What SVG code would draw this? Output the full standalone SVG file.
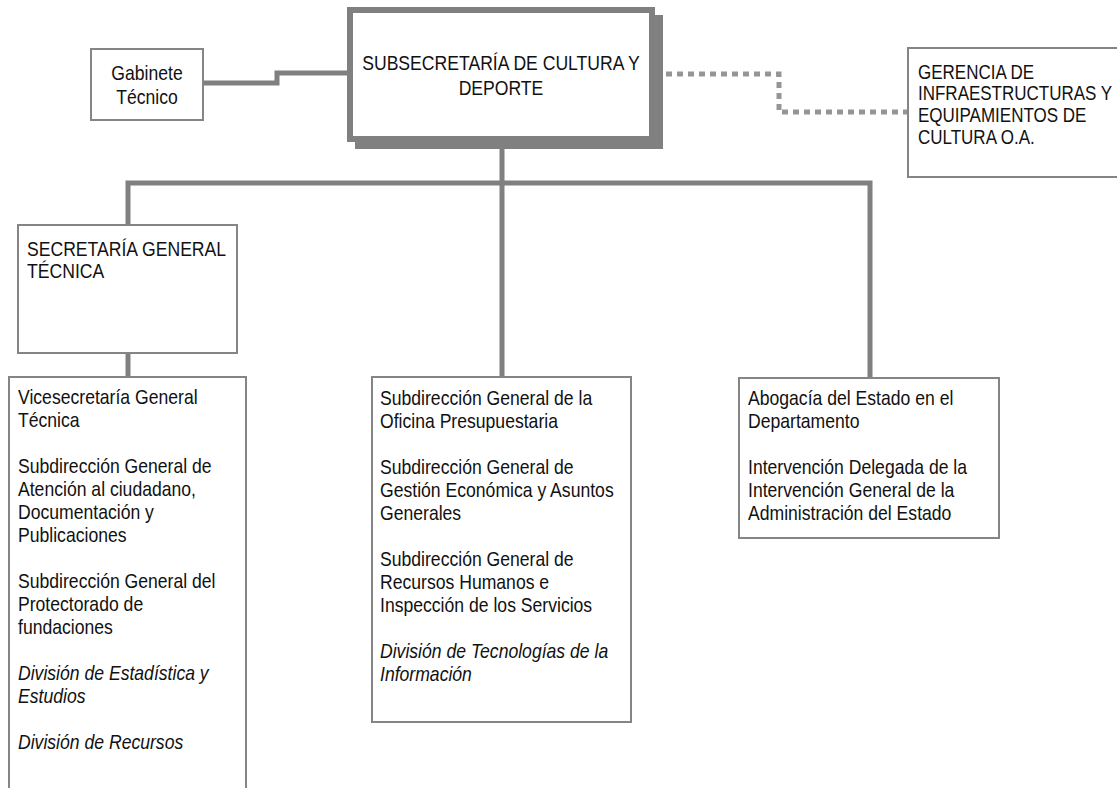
<svg xmlns="http://www.w3.org/2000/svg" width="1117" height="788" viewBox="0 0 1117 788">
<style>
.box{fill:#fff;stroke:#858585;stroke-width:2}
.conn{fill:none;stroke:#808080;stroke-width:5;stroke-linejoin:miter}
.dot{fill:none;stroke:#959595;stroke-width:5;stroke-dasharray:6 5}
text{font-family:"Liberation Sans",Arial,sans-serif;font-size:20px;fill:#111}
.c{text-anchor:middle}
.i{font-style:italic}
</style>
<rect width="1117" height="788" fill="#fff"/>
<g id="connectors">
<path class="conn" d="M203,83 H277 V73 H347"/>
<path class="dot" d="M666,74 H779 V112 H908"/>
<path class="conn" d="M128,225 V183 H870 V378"/>
<path class="conn" d="M502,149 V377"/>
<path class="conn" d="M128,353 V377"/>
</g>
<g id="gabinete">
<rect class="box" x="91" y="49" width="112" height="71"/>
<g transform="translate(147,0) scale(0.88,1)">
<text class="c" x="0" y="80">Gabinete</text>
<text class="c" x="0" y="104">Técnico</text>
</g>
</g>
<g id="subsecretaria">
<rect x="355" y="15" width="308" height="134" fill="#808080"/>
<rect x="350" y="10" width="302" height="129" fill="#fff" stroke="#808080" stroke-width="6"/>
<g transform="translate(501,0) scale(0.88,1)">
<text class="c" x="0" y="70">SUBSECRETARÍA DE CULTURA Y</text>
<text class="c" x="0" y="95">DEPORTE</text>
</g>
</g>
<g id="gerencia">
<rect class="box" x="908" y="48" width="215" height="129"/>
<g transform="translate(918,0) scale(0.85,1)">
<text x="0" y="79">GERENCIA DE</text>
<text x="0" y="100">INFRAESTRUCTURAS Y</text>
<text x="0" y="122">EQUIPAMIENTOS DE</text>
<text x="0" y="144">CULTURA O.A.</text>
</g>
</g>
<g id="sgt">
<rect class="box" x="18" y="225" width="219" height="128"/>
<g transform="translate(27,0) scale(0.88,1)">
<text x="0" y="256">SECRETARÍA GENERAL</text>
<text x="0" y="278">TÉCNICA</text>
</g>
</g>
<g id="sgt-units">
<rect class="box" x="9" y="377" width="237" height="420"/>
<g transform="translate(18,0) scale(0.88,1)">
<text x="0" y="404">Vicesecretaría General</text>
<text x="0" y="427">Técnica</text>
<text x="0" y="473">Subdirección General de</text>
<text x="0" y="496">Atención al ciudadano,</text>
<text x="0" y="519">Documentación y</text>
<text x="0" y="542">Publicaciones</text>
<text x="0" y="588">Subdirección General del</text>
<text x="0" y="611">Protectorado de</text>
<text x="0" y="634">fundaciones</text>
<text class="i" x="0" y="680">División de Estadística y</text>
<text class="i" x="0" y="703">Estudios</text>
<text class="i" x="0" y="749">División de Recursos</text>
</g>
</g>
<g id="central-units">
<rect class="box" x="372" y="377" width="259" height="345"/>
<g transform="translate(380,0) scale(0.88,1)">
<text x="0" y="405">Subdirección General de la</text>
<text x="0" y="428">Oficina Presupuestaria</text>
<text x="0" y="474">Subdirección General de</text>
<text x="0" y="497">Gestión Económica y Asuntos</text>
<text x="0" y="520">Generales</text>
<text x="0" y="566">Subdirección General de</text>
<text x="0" y="589">Recursos Humanos e</text>
<text x="0" y="612">Inspección de los Servicios</text>
<text class="i" x="0" y="658">División de Tecnologías de la</text>
<text class="i" x="0" y="681">Información</text>
</g>
</g>
<g id="right-units">
<rect class="box" x="739" y="378" width="260" height="160"/>
<g transform="translate(748,0) scale(0.88,1)">
<text x="0" y="405">Abogacía del Estado en el</text>
<text x="0" y="428">Departamento</text>
<text x="0" y="474">Intervención Delegada de la</text>
<text x="0" y="497">Intervención General de la</text>
<text x="0" y="520">Administración del Estado</text>
</g>
</g>
</svg>
